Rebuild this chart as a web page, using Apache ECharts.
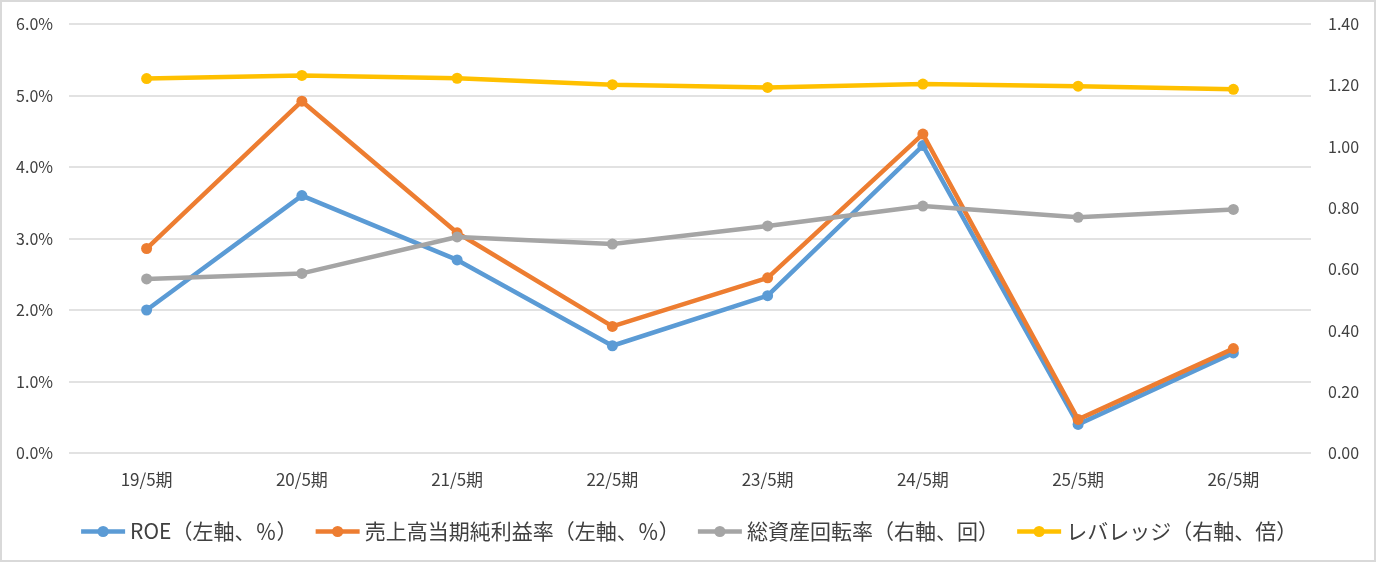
<!DOCTYPE html>
<html>
<head>
<meta charset="utf-8">
<script src="https://cdn.jsdelivr.net/npm/echarts@6/dist/echarts.min.js"></script>
<style>
  html, body { margin: 0; padding: 0; background: #fff; }
  #chart { width: 1376px; height: 562px; box-sizing: border-box; border: 2px solid #d9d9d9; }
</style>
</head>
<body>
<div id="chart"></div>
<script>
// データ
const categories = ['19/5期', '20/5期', '21/5期', '22/5期', '23/5期', '24/5期', '25/5期', '26/5期'];
const roe = [2.0, 3.6, 2.7, 1.5, 2.2, 4.3, 0.4, 1.4];
const netMargin = [2.86, 4.92, 3.08, 1.77, 2.45, 4.46, 0.47, 1.46];
const assetTurnover = [0.568, 0.586, 0.705, 0.682, 0.741, 0.806, 0.769, 0.795];
const leverage = [1.222, 1.232, 1.223, 1.202, 1.193, 1.204, 1.197, 1.187];

const seriesNames = ['ROE（左軸、％）', '売上高当期純利益率（左軸、％）', '総資産回転率（右軸、回）', 'レバレッジ（右軸、倍）'];
const colors = ['#5B9BD5', '#ED7D31', '#A5A5A5', '#FFC000'];

const fontFamily = '"Noto Sans CJK JP", "Noto Sans", sans-serif';

const chart = echarts.init(document.getElementById('chart'));

function lineSeries(name, data, color, axisIndex, z) {
    return {
        name: name,
        type: 'line',
        yAxisIndex: axisIndex,
        data: data,
        symbol: 'circle',
        symbolSize: 11,
        z: z,
        lineStyle: { color: color, width: 4.5 },
        itemStyle: { color: color },
        emphasis: { disabled: true }
    };
}

const option = {
    animation: false,
    textStyle: { fontFamily: fontFamily },
    color: colors,
    grid: { left: 67, right: 63, top: 22, bottom: 107 },
    legend: {
        top: 514,
        left: 'center',
        itemWidth: 44,
        itemHeight: 14,
        itemGap: 16,
        lineStyle: { width: 4.5 },
        textStyle: { fontSize: 21, color: '#404040', fontFamily: fontFamily },
        data: seriesNames
    },
    xAxis: {
        type: 'category',
        data: categories,
        boundaryGap: true,
        axisLine: { show: false },
        axisTick: { show: false },
        axisLabel: { color: '#404040', fontSize: 17, margin: 18 }
    },
    yAxis: [
        {
            type: 'value',
            min: 0,
            max: 6,
            interval: 1,
            axisLine: { show: false },
            axisTick: { show: false },
            axisLabel: {
                color: '#404040',
                fontSize: 16,
                margin: 16,
                formatter: v => v.toFixed(1) + '%'
            },
            splitLine: { lineStyle: { color: '#d9d9d9', width: 1.5 } }
        },
        {
            type: 'value',
            min: 0,
            max: 1.4,
            interval: 0.2,
            axisLine: { show: false },
            axisTick: { show: false },
            axisLabel: {
                color: '#404040',
                fontSize: 16,
                margin: 17,
                formatter: v => v.toFixed(2)
            },
            splitLine: { show: false }
        }
    ],
    series: [
        lineSeries(seriesNames[0], roe, colors[0], 0, 2),
        lineSeries(seriesNames[1], netMargin, colors[1], 0, 3),
        lineSeries(seriesNames[2], assetTurnover, colors[2], 1, 4),
        lineSeries(seriesNames[3], leverage, colors[3], 1, 5)
    ]
};

chart.setOption(option);
</script>
</body>
</html>
